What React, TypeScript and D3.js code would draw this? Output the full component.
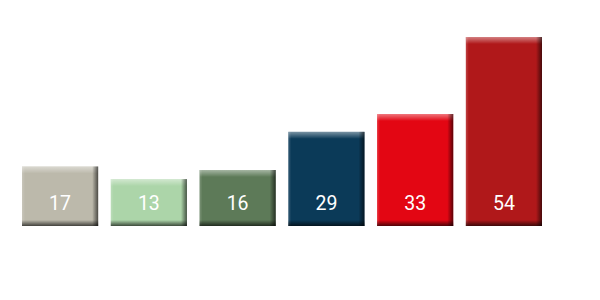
import React from "react";
import * as d3 from "d3";

const categories = ["A", "B", "C", "D", "E", "F"];
const barValues = [17, 13.4, 16, 26.9, 32, 54];
const labels = ["17", "13", "16", "29", "33", "54"];
const colors = ["#bcb9ab", "#acd5a9", "#5d7a58", "#0b3a58", "#e30613", "#b0181a"];

const W = 600;
const H = 300;

export default function App() {
  const x = d3
    .scaleBand<string>()
    .domain(categories)
    .range([15.7, 548.3])
    .paddingInner(0.142)
    .paddingOuter(0.071);
  const y = d3.scaleLinear().domain([0, 60]).range([226, 16]);
  const bw = x.bandwidth();

  return (
    <svg
      width={W}
      height={H}
      style={{ position: "absolute", left: 0, top: 0, display: "block", background: "#fff" }}
    >
      <defs>
        <linearGradient id="gTop" x1="0" y1="0" x2="0" y2="1">
          <stop offset="0" stopColor="#fff" stopOpacity={0.45} />
          <stop offset="1" stopColor="#fff" stopOpacity={0} />
        </linearGradient>
        <linearGradient id="gBottom" x1="0" y1="0" x2="0" y2="1">
          <stop offset="0" stopColor="#000" stopOpacity={0} />
          <stop offset="1" stopColor="#000" stopOpacity={0.65} />
        </linearGradient>
        <linearGradient id="gRight" x1="0" y1="0" x2="1" y2="0">
          <stop offset="0" stopColor="#000" stopOpacity={0} />
          <stop offset="1" stopColor="#000" stopOpacity={0.6} />
        </linearGradient>
        <linearGradient id="gLeft" x1="0" y1="0" x2="1" y2="0">
          <stop offset="0" stopColor="#fff" stopOpacity={0.18} />
          <stop offset="1" stopColor="#fff" stopOpacity={0} />
        </linearGradient>
      </defs>
      {categories.map((c, i) => {
        const x0 = x(c)!;
        const y0 = y(barValues[i]);
        const h = y(0) - y0;
        return (
          <g key={c}>
            <rect x={x0} y={y0} width={bw} height={h} fill={colors[i]} />
            <rect x={x0} y={y0} width={3} height={h} fill="url(#gLeft)" />
            <rect x={x0} y={y0} width={bw} height={7} fill="url(#gTop)" />
            <rect x={x0 + bw - 6} y={y0} width={6} height={h} fill="url(#gRight)" />
            <rect x={x0} y={y0 + h - 6} width={bw} height={6} fill="url(#gBottom)" />
            <text
              x={x0 + bw / 2}
              y={210}
              textAnchor="middle"
              fill="#fff"
              fontFamily="Roboto, sans-serif"
              fontWeight={400}
              fontSize={19.5}
            >
              {labels[i]}
            </text>
          </g>
        );
      })}
    </svg>
  );
}
